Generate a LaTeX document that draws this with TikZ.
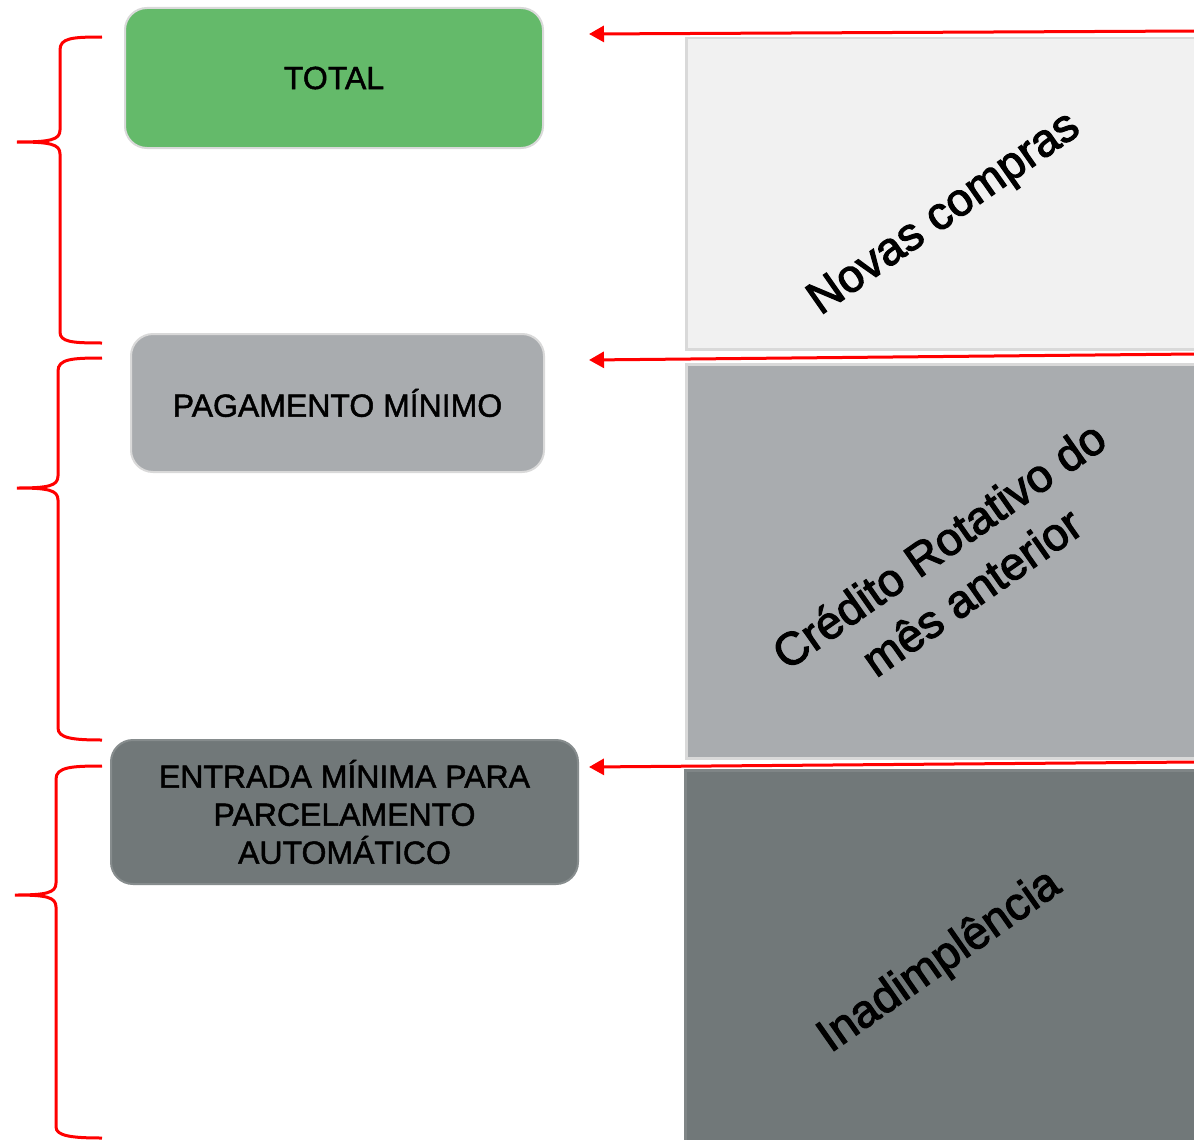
\documentclass[tikz,border=0pt]{standalone}
\usepackage{fontspec}
\setmainfont{Liberation Sans}[FakeBold=1.5]
\newfontfamily\heavyfont{Liberation Sans}[FakeBold=2.5]
\usetikzlibrary{arrows.meta}
\definecolor{cgreen}{HTML}{64BA6A}
\definecolor{clight}{HTML}{F1F1F1}
\definecolor{cmid}{HTML}{A9ACAF}
\definecolor{cdark}{HTML}{717879}
\definecolor{cedge}{HTML}{D9D9D9}
\definecolor{cred}{HTML}{FF0000}
\tikzset{
  box/.style={draw=cedge, line width=2pt, rounded corners=22pt, align=center,
    font=\fontsize{32}{38}\selectfont, inner sep=0pt},
  band/.style={draw=cedge, line width=2.5pt, inner sep=0pt},
  rottext/.style={rotate=35, align=center, font=\heavyfont\fontsize{46}{57}\selectfont, inner sep=0pt},
  redarrow/.style={draw=cred, line width=3pt, -{Triangle[length=15pt,width=16pt]}},
  brace/.style={draw=cred, line width=3pt, line cap=butt}
}
\begin{document}
\begin{tikzpicture}[x=1pt,y=-1pt]
\useasboundingbox (0,0) rectangle (1194,1140);
\fill[white] (0,0) rectangle (1194,1140);

% right bands
\node[band, fill=clight, minimum width=520pt, minimum height=311pt, anchor=north west] (nbox) at (685,37) {};
\node[band, fill=cmid, minimum width=520pt, minimum height=394pt, anchor=north west] (cbox) at (685,363) {};
\node[band, fill=cdark, draw=cdark!90!white, minimum width=520pt, minimum height=380pt, anchor=north west] (ibox) at (684,769) {};

\node[rottext] (ntext) at (945,215) {Novas compras};
\node[rottext] (ctext) at (955,568) {Crédito Rotativo do\\mês anterior};
\node[rottext] (itext) at (940,962) {Inadimplência};

% left boxes
\node[box, fill=cgreen, minimum width=418pt, minimum height=140pt] (total) at (334,78) {TOTAL};
\node[box, fill=cmid, minimum width=413pt, minimum height=138pt] (pag) at (337.5,403) {PAGAMENTO MÍNIMO};
\node[box, fill=cdark, draw=cdark!85!white, minimum width=467pt, minimum height=144pt] (ent) at (344.5,812) {ENTRADA MÍNIMA PARA\\PARCELAMENTO\\AUTOMÁTICO};

% arrows
\coordinate (s1) at (1196,31);
\coordinate (e1) at (589,34);
\coordinate (s2) at (1196,354);
\coordinate (e2) at (589,360);
\coordinate (s3) at (1196,762);
\coordinate (e3) at (589,767);
\draw[redarrow] (s1) -- (e1);
\draw[redarrow] (s2) -- (e2);
\draw[redarrow] (s3) -- (e3);

% braces
\draw[brace] (102,37) .. controls (72,37) and (60,38) .. (60,50) -- (60,130)
  .. controls (60,140) and (50,142) .. (17,142)
  .. controls (50,142) and (60,144) .. (60,154) -- (60,332)
  .. controls (60,342) and (72,343) .. (102,343);
\draw[brace] (102,358) .. controls (72,358) and (58,359) .. (58,371) -- (58,476)
  .. controls (58,486) and (48,488) .. (17,488)
  .. controls (48,488) and (58,490) .. (58,500) -- (58,728)
  .. controls (58,738) and (72,740) .. (102,740);
\draw[brace] (102,766) .. controls (72,766) and (56,767) .. (56,779) -- (56,883)
  .. controls (56,893) and (46,895) .. (15,895)
  .. controls (46,895) and (56,897) .. (56,907) -- (56,1127)
  .. controls (56,1136) and (72,1138) .. (102,1138);
\end{tikzpicture}
\end{document}
